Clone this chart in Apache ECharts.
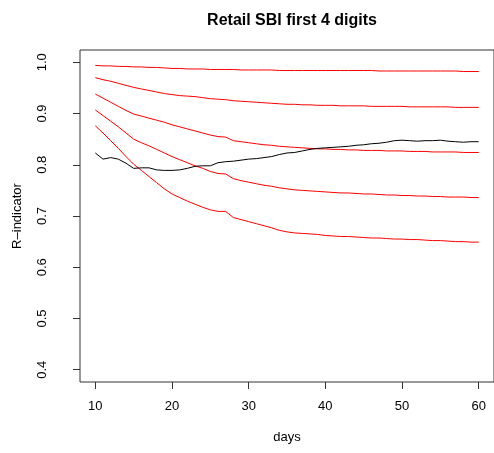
<!DOCTYPE html>
<html>
<head>
<meta charset="utf-8">
<script src="https://cdn.jsdelivr.net/npm/echarts@6/dist/echarts.min.js"></script>
<style>
  html, body { margin: 0; padding: 0; background: #fff; }
  #chart { width: 494px; height: 453px; }
</style>
</head>
<body>
<div id="chart"></div>
<script>
// Days since start of the collection period
const days = [];
for (let d = 10; d <= 60; d++) days.push(d);

// R-indicator of the response, by day
const rObserved = [
  0.823, 0.811, 0.814, 0.811, 0.803, 0.793, 0.794, 0.794, 0.790, 0.789,
  0.789, 0.790, 0.793, 0.797, 0.798, 0.798, 0.804, 0.806, 0.807, 0.809,
  0.811, 0.812, 0.814, 0.816, 0.820, 0.823, 0.824, 0.827, 0.830, 0.832,
  0.833, 0.834, 0.835, 0.836, 0.838, 0.839, 0.841, 0.842, 0.844, 0.847,
  0.848, 0.847, 0.846, 0.847, 0.847, 0.848, 0.846, 0.845, 0.844, 0.845,
  0.845
];

// Lower bounds of the R-indicator for five response levels
const bound1 = [
  0.994, 0.993, 0.993, 0.992, 0.992, 0.991, 0.991, 0.990, 0.990, 0.989,
  0.988, 0.988, 0.987, 0.987, 0.987, 0.986, 0.986, 0.986, 0.986, 0.985,
  0.985, 0.985, 0.985, 0.985, 0.984, 0.984, 0.984, 0.984, 0.984, 0.984,
  0.984, 0.984, 0.984, 0.984, 0.984, 0.984, 0.984, 0.983, 0.983, 0.983,
  0.983, 0.983, 0.983, 0.983, 0.983, 0.983, 0.983, 0.983, 0.982, 0.982,
  0.982
];
const bound2 = [
  0.970, 0.966, 0.963, 0.959, 0.955, 0.951, 0.948, 0.945, 0.942, 0.939,
  0.937, 0.935, 0.934, 0.933, 0.931, 0.929, 0.928, 0.927, 0.925, 0.924,
  0.923, 0.922, 0.921, 0.920, 0.919, 0.918, 0.918, 0.917, 0.917, 0.916,
  0.916, 0.916, 0.915, 0.915, 0.915, 0.915, 0.914, 0.914, 0.914, 0.914,
  0.914, 0.913, 0.913, 0.913, 0.913, 0.913, 0.913, 0.912, 0.912, 0.912,
  0.912
];
const bound3 = [
  0.938, 0.930, 0.922, 0.914, 0.906, 0.899, 0.895, 0.891, 0.887, 0.883,
  0.878, 0.874, 0.870, 0.866, 0.862, 0.858, 0.855, 0.854, 0.847, 0.845,
  0.843, 0.841, 0.839, 0.838, 0.836, 0.835, 0.834, 0.833, 0.832, 0.831,
  0.831, 0.830, 0.830, 0.829, 0.829, 0.828, 0.828, 0.828, 0.827, 0.827,
  0.827, 0.826, 0.826, 0.826, 0.825, 0.825, 0.825, 0.825, 0.824, 0.824,
  0.824
];
const bound4 = [
  0.907, 0.896, 0.885, 0.874, 0.862, 0.850, 0.843, 0.837, 0.830, 0.823,
  0.816, 0.810, 0.804, 0.798, 0.793, 0.787, 0.783, 0.782, 0.773, 0.769,
  0.766, 0.763, 0.760, 0.758, 0.755, 0.753, 0.751, 0.750, 0.749, 0.748,
  0.747, 0.746, 0.745, 0.745, 0.744, 0.743, 0.743, 0.742, 0.741, 0.741,
  0.740, 0.740, 0.739, 0.739, 0.738, 0.738, 0.737, 0.737, 0.737, 0.736,
  0.736
];
const bound5 = [
  0.876, 0.862, 0.847, 0.832, 0.816, 0.801, 0.789, 0.777, 0.765, 0.753,
  0.743, 0.736, 0.729, 0.723, 0.717, 0.712, 0.709, 0.709, 0.697, 0.693,
  0.689, 0.685, 0.681, 0.677, 0.672, 0.669, 0.667, 0.666, 0.665, 0.664,
  0.662, 0.661, 0.660, 0.660, 0.659, 0.658, 0.657, 0.657, 0.656, 0.655,
  0.655, 0.654, 0.654, 0.653, 0.652, 0.652, 0.651, 0.650, 0.650, 0.649,
  0.649
];

// Tick labels
const xTicks = [10, 20, 30, 40, 50, 60];
const yTicks = [0.4, 0.5, 0.6, 0.7, 0.8, 0.9, 1.0];

const FONT = '"Liberation Sans", Arial, Helvetica, sans-serif';

function pairs(vals) {
  return days.map((d, i) => [d, vals[i]]);
}

function line(vals, color) {
  return {
    type: 'line',
    data: pairs(vals),
    showSymbol: false,
    symbol: 'none',
    lineStyle: { color: color, width: 1 },
    silent: true,
    animation: false
  };
}

const chart = echarts.init(document.getElementById('chart'), null, { renderer: 'canvas' });

chart.setOption({
  animation: false,
  backgroundColor: '#fff',
  title: {
    text: 'Retail SBI first 4 digits',
    left: 287,
    top: 8,
    textAlign: 'center',
    textStyle: { fontFamily: FONT, fontSize: 16, fontWeight: 'bold', color: '#000' }
  },
  grid: {
    left: 80, right: 0, top: 50, bottom: 71,
    show: true, borderColor: '#333', borderWidth: 1, backgroundColor: 'transparent'
  },
  xAxis: {
    type: 'value',
    min: 8, max: 62,
    name: 'days',
    nameLocation: 'middle',
    nameGap: 49,
    nameTextStyle: { fontFamily: FONT, fontSize: 13, color: '#000' },
    axisLine: { show: false },
    splitLine: { show: false },
    axisTick: { show: true, length: 7, lineStyle: { color: '#333' }, customValues: xTicks },
    axisLabel: { fontFamily: FONT, fontSize: 13, color: '#000', margin: 18, customValues: xTicks }
  },
  yAxis: {
    type: 'value',
    min: 0.376, max: 1.024,
    name: 'R\u2013indicator',
    nameLocation: 'middle',
    nameRotate: 90,
    nameGap: 56,
    nameTextStyle: { fontFamily: FONT, fontSize: 13, color: '#000' },
    axisLine: { show: false },
    splitLine: { show: false },
    axisTick: { show: true, length: 7, lineStyle: { color: '#333' }, customValues: yTicks },
    axisLabel: {
      fontFamily: FONT, fontSize: 13, color: '#000', margin: 31, rotate: 90,
      customValues: yTicks,
      formatter: v => v.toFixed(1)
    }
  },
  series: [
    line(bound1, '#ff0000'),
    line(bound2, '#ff0000'),
    line(bound3, '#ff0000'),
    line(bound4, '#ff0000'),
    line(bound5, '#ff0000'),
    line(rObserved, '#000000')
  ]
});
</script>
</body>
</html>
